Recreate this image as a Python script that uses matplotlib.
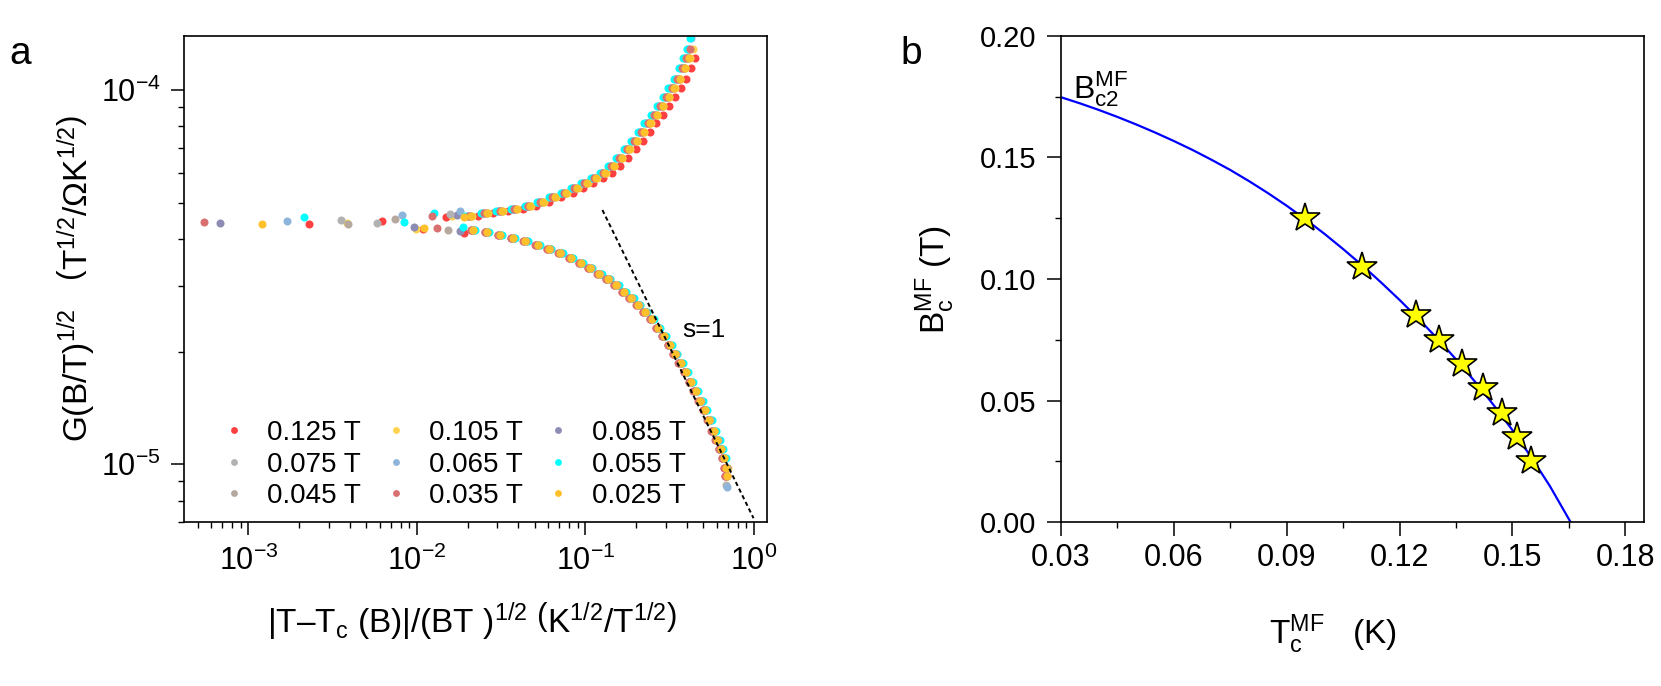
import matplotlib
matplotlib.use('Agg')
import matplotlib.pyplot as plt
from matplotlib.ticker import LogLocator, NullFormatter, MultipleLocator, FormatStrFormatter

plt.rcParams['font.family'] = ['Liberation Sans', 'DejaVu Sans']
plt.rcParams['mathtext.fontset'] = 'custom'
plt.rcParams['mathtext.rm'] = 'Liberation Sans'
plt.rcParams['mathtext.it'] = 'Liberation Sans'
plt.rcParams['mathtext.sf'] = 'Liberation Sans'
plt.rcParams['mathtext.bf'] = 'Liberation Sans:bold'
plt.rcParams['axes.unicode_minus'] = False

# ---- panel a : scaled conductance, one list per field ----
fields = ['0.125 T', '0.105 T', '0.085 T', '0.075 T', '0.065 T',
          '0.055 T', '0.045 T', '0.035 T', '0.025 T']
colors = ['#ff4040', '#ffd34e', '#8c8cb4', '#b2b2b2', '#8db4da',
          '#00ffff', '#b5a89e', '#d97070', '#ffc12b']

# upper branch (T > Tc), values shared by the collapsed curves
upper_y = [4.62e-5, 4.68e-5, 4.74e-5, 4.82e-5, 4.91e-5, 5.03e-5, 5.17e-5, 5.30e-5,
           5.46e-5, 5.66e-5, 5.82e-5, 6.01e-5, 6.26e-5, 6.57e-5, 6.96e-5, 7.33e-5,
           7.72e-5, 8.14e-5, 8.59e-5, 9.05e-5, 9.56e-5, 1.01e-4, 1.072e-4, 1.145e-4,
           1.215e-4, 1.285e-4, 1.375e-4]
ux_125 = [0.0229, 0.0283, 0.0349, 0.0425, 0.0512, 0.0610, 0.0719, 0.0839, 0.0970,
          0.1112, 0.1264, 0.1428, 0.1602, 0.1788, 0.1984, 0.2191, 0.2409, 0.2638,
          0.2878, 0.3128, 0.3390, 0.3662, 0.3946, 0.4229, 0.4469]
ux_105 = [0.0212, 0.0263, 0.0323, 0.0394, 0.0475, 0.0566, 0.0667, 0.0778, 0.0899,
          0.1030, 0.1172, 0.1323, 0.1485, 0.1656, 0.1838, 0.2030, 0.2232, 0.2444,
          0.2666, 0.2899, 0.3141, 0.3394, 0.3656, 0.3919, 0.4141, 0.4343]
ux_085 = [0.0207, 0.0256, 0.0315, 0.0384, 0.0463, 0.0552, 0.0650, 0.0758, 0.0877,
          0.1005, 0.1143, 0.1290, 0.1448, 0.1615, 0.1793, 0.1980, 0.2177, 0.2384,
          0.2600, 0.2827, 0.3063, 0.3310, 0.3566, 0.3822, 0.4039]
ux_075 = [0.0200, 0.0247, 0.0304, 0.0371, 0.0447, 0.0532, 0.0627, 0.0732, 0.0846,
          0.0969, 0.1102, 0.1245, 0.1397, 0.1558, 0.1729, 0.1910, 0.2100, 0.2299,
          0.2508, 0.2727, 0.2955, 0.3192, 0.3439, 0.3686, 0.3895, 0.4085]
ux_065 = [0.0197, 0.0244, 0.0301, 0.0367, 0.0442, 0.0526, 0.0620, 0.0724, 0.0837,
          0.0959, 0.1090, 0.1231, 0.1382, 0.1542, 0.1711, 0.1889, 0.2077, 0.2275,
          0.2482, 0.2698, 0.2923, 0.3158, 0.3403, 0.3647, 0.3854, 0.4042, 0.4230]
ux_055 = [0.0194, 0.0241, 0.0296, 0.0361, 0.0435, 0.0518, 0.0611, 0.0712, 0.0823,
          0.0944, 0.1073, 0.1212, 0.1360, 0.1517, 0.1684, 0.1859, 0.2044, 0.2239,
          0.2442, 0.2655, 0.2877, 0.3108, 0.3349, 0.3589, 0.3793, 0.3978, 0.4163]
ux_045 = [0.0205, 0.0254, 0.0312, 0.0380, 0.0458, 0.0546, 0.0644, 0.0751, 0.0868,
          0.0995, 0.1131, 0.1277, 0.1433, 0.1599, 0.1775, 0.1960, 0.2155, 0.2360,
          0.2574, 0.2798, 0.3032, 0.3276, 0.3530, 0.3783, 0.3998]
ux_035 = [0.0203, 0.0251, 0.0309, 0.0376, 0.0454, 0.0540, 0.0637, 0.0743, 0.0859,
          0.0984, 0.1119, 0.1264, 0.1419, 0.1583, 0.1756, 0.1940, 0.2133, 0.2335,
          0.2548, 0.2770, 0.3001, 0.3242, 0.3493, 0.3744, 0.3957, 0.4150]
ux_025 = [0.021, 0.026, 0.032, 0.039, 0.047, 0.056, 0.066, 0.077, 0.089, 0.102,
          0.116, 0.131, 0.147, 0.164, 0.182, 0.201, 0.221, 0.242, 0.264, 0.287,
          0.311, 0.336, 0.362, 0.388, 0.41]

# lower branch (T < Tc)
lower_y = [4.24e-5, 4.17e-5, 4.11e-5, 4.02e-5, 3.94e-5, 3.85e-5, 3.76e-5, 3.66e-5,
           3.56e-5, 3.45e-5, 3.35e-5, 3.23e-5, 3.12e-5, 3.01e-5, 2.89e-5, 2.78e-5,
           2.67e-5, 2.55e-5, 2.44e-5, 2.32e-5, 2.20e-5, 2.09e-5, 1.97e-5, 1.86e-5,
           1.76e-5, 1.66e-5, 1.57e-5, 1.48e-5, 1.40e-5, 1.31e-5, 1.23e-5, 1.16e-5,
           1.10e-5, 1.04e-5, 0.98e-5, 0.93e-5]
lx_125 = [0.0210, 0.0254, 0.0302, 0.0361, 0.0429, 0.0507, 0.0595, 0.0692, 0.0800,
          0.0917, 0.104, 0.118, 0.133, 0.148, 0.165, 0.182, 0.201, 0.220, 0.241,
          0.262, 0.285, 0.308, 0.332, 0.358, 0.384, 0.411, 0.440, 0.469, 0.499,
          0.530, 0.562, 0.592, 0.620, 0.645, 0.665, 0.675]
lx_105 = [0.0219, 0.0265, 0.0316, 0.0377, 0.0449, 0.0530, 0.0622, 0.0724, 0.0836,
          0.0959, 0.109, 0.123, 0.139, 0.155, 0.172, 0.191, 0.210, 0.231, 0.252,
          0.274, 0.298, 0.322, 0.348, 0.374, 0.402, 0.430, 0.460, 0.491, 0.522,
          0.555, 0.588, 0.619, 0.649, 0.675, 0.696]
lx_085 = [0.0217, 0.0263, 0.0313, 0.0374, 0.0444, 0.0525, 0.0616, 0.0717, 0.0828,
          0.0949, 0.108, 0.122, 0.137, 0.154, 0.171, 0.189, 0.208, 0.228, 0.249,
          0.272, 0.295, 0.319, 0.344, 0.371, 0.398, 0.426, 0.456, 0.486, 0.517,
          0.549, 0.582, 0.613, 0.642, 0.669, 0.689]
lx_075 = [0.0211, 0.0255, 0.0304, 0.0363, 0.0431, 0.0510, 0.0598, 0.0696, 0.0804,
          0.0921, 0.105, 0.119, 0.133, 0.149, 0.166, 0.183, 0.202, 0.221, 0.242,
          0.264, 0.286, 0.310, 0.334, 0.360, 0.386, 0.414, 0.442, 0.471, 0.502,
          0.533, 0.564, 0.595, 0.623, 0.649, 0.668, 0.678]
lx_065 = [0.0213, 0.0257, 0.0307, 0.0366, 0.0436, 0.0515, 0.0604, 0.0703, 0.0812,
          0.0931, 0.106, 0.120, 0.135, 0.150, 0.167, 0.185, 0.204, 0.224, 0.245,
          0.266, 0.289, 0.313, 0.338, 0.363, 0.390, 0.418, 0.446, 0.476, 0.507,
          0.539, 0.570, 0.601, 0.630, 0.655, 0.675, 0.685]
lx_055 = [0.0221, 0.0268, 0.0319, 0.0381, 0.0453, 0.0536, 0.0628, 0.0731, 0.0845,
          0.0968, 0.110, 0.125, 0.140, 0.157, 0.174, 0.193, 0.212, 0.233, 0.254,
          0.277, 0.301, 0.325, 0.351, 0.378, 0.406, 0.435, 0.465, 0.495, 0.527,
          0.560, 0.593, 0.625, 0.655, 0.682]
lx_045 = [0.0216, 0.0261, 0.0312, 0.0372, 0.0442, 0.0523, 0.0613, 0.0714, 0.0824,
          0.0945, 0.108, 0.122, 0.137, 0.153, 0.170, 0.188, 0.207, 0.227, 0.248,
          0.270, 0.293, 0.318, 0.343, 0.369, 0.396, 0.424, 0.453, 0.483, 0.515,
          0.547, 0.579, 0.610, 0.639, 0.665, 0.685, 0.695]
lx_035 = [0.0209, 0.0252, 0.0301, 0.0359, 0.0427, 0.0504, 0.0592, 0.0689, 0.0795,
          0.0912, 0.104, 0.117, 0.132, 0.147, 0.164, 0.181, 0.200, 0.219, 0.240,
          0.261, 0.283, 0.307, 0.331, 0.356, 0.382, 0.409, 0.437, 0.467, 0.497,
          0.528, 0.559, 0.589, 0.617, 0.642, 0.662, 0.671]
lx_025 = [0.0215, 0.026, 0.031, 0.037, 0.044, 0.052, 0.061, 0.071, 0.082, 0.094,
          0.107, 0.121, 0.136, 0.152, 0.169, 0.187, 0.206, 0.226, 0.247, 0.269,
          0.292, 0.316, 0.341, 0.367, 0.394, 0.422, 0.451, 0.481, 0.512, 0.544,
          0.576, 0.607, 0.636, 0.662, 0.682, 0.692]

# scattered points near Tc and the last low points
ex_125 = [0.00228, 0.00624, 0.01083, 0.01477, 0.01914]
ey_125 = [4.38e-5, 4.48e-5, 4.25e-5, 4.57e-5, 4.14e-5]
ex_105 = [0.00384, 0.00985, 0.0161]
ey_105 = [4.42e-5, 4.25e-5, 4.62e-5]
ex_085 = [0.000676, 0.00967, 0.01724, 0.0179]
ey_085 = [4.41e-5, 4.31e-5, 4.63e-5, 4.20e-5]
ex_075 = [0.00353, 0.00583, 0.0157, 0.685]
ey_075 = [4.50e-5, 4.40e-5, 4.66e-5, 0.88e-5]
ex_065 = [0.00169, 0.0082, 0.01805, 0.688]
ey_065 = [4.48e-5, 4.63e-5, 4.76e-5, 0.87e-5]
ex_055 = [0.00215, 0.00839, 0.0127, 0.01872]
ey_055 = [4.58e-5, 4.45e-5, 4.68e-5, 4.31e-5]
ex_045 = [0.00392, 0.00742, 0.01518]
ey_045 = [4.38e-5, 4.51e-5, 4.24e-5]
ex_035 = [0.000546, 0.01226, 0.01318, 0.69]
ey_035 = [4.44e-5, 4.62e-5, 4.27e-5, 0.93e-5]
ex_025 = [0.001206, 0.01104, 0.0189]
ey_025 = [4.39e-5, 4.27e-5, 4.59e-5]

# s=1 guide line
slope_x = [0.126, 0.993]
slope_y = [4.78e-5, 7.18e-6]

# ---- panel b : mean field critical field ----
tc_stars = [0.0949, 0.110, 0.1244, 0.1306, 0.1367, 0.1422, 0.1472, 0.1512, 0.1549]
bc_stars = [0.125, 0.105, 0.085, 0.075, 0.065, 0.055, 0.045, 0.035, 0.025]
tc_curve = [0.030, 0.035, 0.040, 0.045, 0.050, 0.055, 0.060, 0.065, 0.070, 0.075,
            0.080, 0.085, 0.090, 0.095, 0.100, 0.105, 0.110, 0.115, 0.120, 0.125,
            0.130, 0.135, 0.140, 0.145, 0.150, 0.155, 0.160, 0.1655]
bc_curve = [0.1747, 0.1722, 0.1695, 0.1666, 0.1635, 0.1602, 0.1567, 0.1530, 0.1490,
            0.1448, 0.1402, 0.1353, 0.1301, 0.1245, 0.1186, 0.1123, 0.1057, 0.0987,
            0.0914, 0.0837, 0.0756, 0.0670, 0.0579, 0.0482, 0.0379, 0.0268, 0.0148,
            0.0]


fig = plt.figure(figsize=(16.61, 6.86), dpi=100)
axa = fig.add_axes([0.1108, 0.2386, 0.3512, 0.7094])
axb = fig.add_axes([0.6388, 0.2386, 0.3510, 0.7094])

series = [
    (ux_125, lx_125, ex_125, ey_125),
    (ux_105, lx_105, ex_105, ey_105),
    (ux_085, lx_085, ex_085, ey_085),
    (ux_075, lx_075, ex_075, ey_075),
    (ux_065, lx_065, ex_065, ey_065),
    (ux_055, lx_055, ex_055, ey_055),
    (ux_045, lx_045, ex_045, ey_045),
    (ux_035, lx_035, ex_035, ey_035),
    (ux_025, lx_025, ex_025, ey_025),
]
handles = []
for (ux, lx, ex, ey), lab, col in zip(series, fields, colors):
    xs = ux + lx + ex
    ys = upper_y[:len(ux)] + lower_y[:len(lx)] + ey
    h, = axa.plot(xs, ys, 'o', ms=5.8, mew=0, color=col, label=lab)
    handles.append(h)

axa.plot(slope_x, slope_y, color='k', lw=1.4, ls=(0, (2.2, 1.6)), zorder=5)
axa.text(0.373, 2.19e-5, 's=1', fontsize=19, ha='left', va='baseline')

axa.set_xscale('log')
axa.set_yscale('log')
axa.set_xlim(4.15e-4, 1.2)
axa.set_ylim(7.0e-6, 1.397e-4)
axa.xaxis.set_minor_locator(LogLocator(base=10, subs=range(2, 10), numticks=20))
axa.yaxis.set_minor_locator(LogLocator(base=10, subs=range(2, 10), numticks=20))
axa.xaxis.set_minor_formatter(NullFormatter())
axa.yaxis.set_minor_formatter(NullFormatter())
axa.tick_params(which='major', length=9.5, width=1.1, direction='out', pad=7)
axa.tick_params(which='minor', length=4.5, width=1.0, direction='out')
axa.tick_params(axis='both', labelsize=22)

# legend rows read left to right
order = [0, 3, 6, 1, 4, 7, 2, 5, 8]
axa.legend([handles[i] for i in order], [fields[i] for i in order], ncol=3,
           loc='lower left', bbox_to_anchor=(0.061, 0.027), frameon=False,
           fontsize=20, handlelength=1.0, handletextpad=0.7, columnspacing=0.77,
           labelspacing=0.2, borderpad=0, borderaxespad=0, markerscale=0.85)

axa.set_xlabel(r'|T–T$_\mathregular{c}$ (B)|/(BT )$^{1/2}$ $\left(\mathregular{K^{1/2}/T^{1/2}}\right)$',
               fontsize=24)
axa.set_ylabel(r'G(B/T)$^{1/2}$   $\left(\mathregular{T^{1/2}/\Omega K^{1/2}}\right)$',
               fontsize=24)
axa.xaxis.set_label_coords(0.493, -0.162)
axa.yaxis.set_label_coords(-0.147, 0.5)

# panel b
axb.plot(tc_curve, bc_curve, color='#0000ff', lw=1.6, zorder=2)
axb.plot(tc_stars, bc_stars, '*', ms=22, mfc='#ffff00', mec='k', mew=1.2,
         linestyle='none', zorder=3)
axb.text(0.0333, 0.1743, r'B$_\mathregular{c2}^\mathregular{MF}$', fontsize=23,
         ha='left', va='baseline')
axb.set_xlim(0.03, 0.185)
axb.set_ylim(0.0, 0.2)
axb.xaxis.set_major_locator(MultipleLocator(0.03))
axb.xaxis.set_minor_locator(MultipleLocator(0.015))
axb.yaxis.set_major_locator(MultipleLocator(0.05))
axb.yaxis.set_minor_locator(MultipleLocator(0.025))
axb.xaxis.set_major_formatter(FormatStrFormatter('%.2f'))
axb.yaxis.set_major_formatter(FormatStrFormatter('%.2f'))
axb.tick_params(which='major', length=9.9, width=1.1, direction='out')
axb.tick_params(which='minor', length=4.3, width=1.0, direction='out')
axb.tick_params(axis='x', labelsize=22, pad=5)
axb.tick_params(axis='y', labelsize=21, pad=8)
axb.set_xlabel(r'T$_\mathregular{c}^\mathregular{MF}$   (K)', fontsize=24)
axb.set_ylabel(r'B$_\mathregular{c}^\mathregular{MF}$ (T)', fontsize=24)
axb.xaxis.set_label_coords(0.467, -0.186)
axb.yaxis.set_label_coords(-0.178, 0.5)

for ax in (axa, axb):
    for sp in ax.spines.values():
        sp.set_linewidth(1.2)

fig.text(9 / 1661, 1 - 64 / 686, 'a', fontsize=28, va='baseline', ha='left')
fig.text(900 / 1661, 1 - 64 / 686, 'b', fontsize=28, va='baseline', ha='left')

fig.savefig('out.png', dpi=100)
